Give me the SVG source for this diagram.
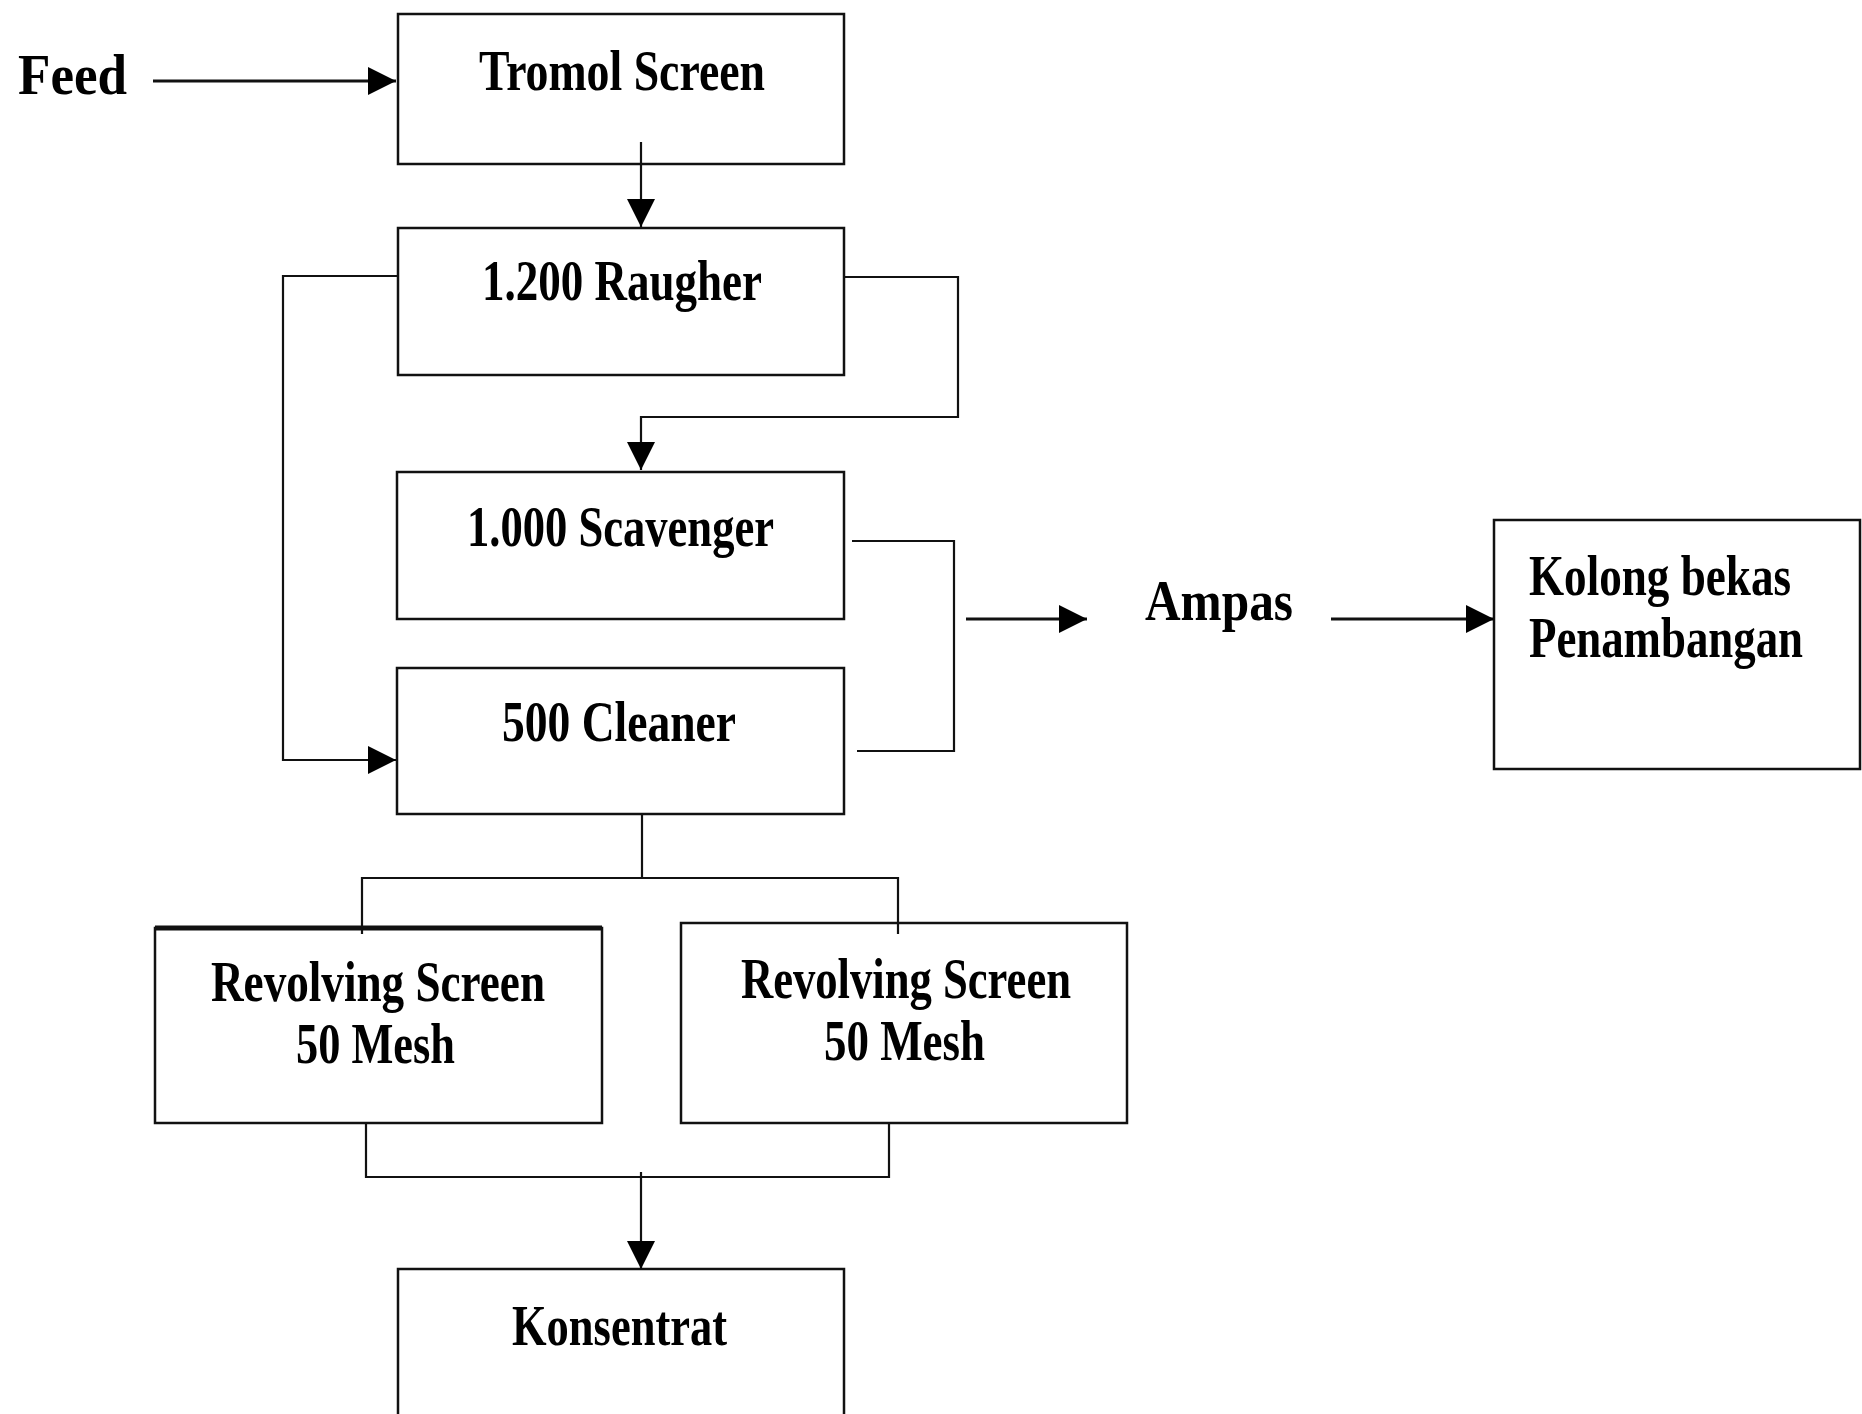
<svg xmlns="http://www.w3.org/2000/svg" width="1862" height="1414" viewBox="0 0 1862 1414">
<style>
.box{fill:#fff;stroke:#111;stroke-width:2.5}
.ln{fill:none;stroke:#111;stroke-width:2.2}
.t{font-family:"Liberation Serif","Times New Roman",serif;font-weight:bold;font-size:56px;fill:#000}
</style>
<defs>
<marker id="ah" viewBox="0 0 28 28" refX="28" refY="14" markerWidth="28" markerHeight="28" markerUnits="userSpaceOnUse" orient="auto">
<path d="M0,0 L28,14 L0,28 z" fill="#000"/>
</marker>
</defs>
<rect width="1862" height="1414" fill="#fff"/>

<g id="feed">
<text class="t" x="18" y="94" font-size="63" textLength="109" lengthAdjust="spacingAndGlyphs">Feed</text>
</g>
<g id="tromol">
<rect class="box" x="398" y="14" width="446" height="150"/>
<text class="t" x="479" y="90" textLength="286" lengthAdjust="spacingAndGlyphs">Tromol Screen</text>
</g>
<g id="raugher">
<rect class="box" x="398" y="228" width="446" height="147"/>
<text class="t" x="482" y="300" textLength="280" lengthAdjust="spacingAndGlyphs">1.200 Raugher</text>
</g>
<g id="scavenger">
<rect class="box" x="397" y="472" width="447" height="147"/>
<text class="t" x="467" y="546" textLength="307" lengthAdjust="spacingAndGlyphs">1.000 Scavenger</text>
</g>
<g id="cleaner">
<rect class="box" x="397" y="668" width="447" height="146"/>
<text class="t" x="502" y="741" textLength="234" lengthAdjust="spacingAndGlyphs">500 Cleaner</text>
</g>
<g id="ampas">
<text class="t" x="1145" y="620" textLength="148" lengthAdjust="spacingAndGlyphs">Ampas</text>
</g>
<g id="kolong">
<rect class="box" x="1494" y="520" width="366" height="249"/>
<text class="t" x="1529" y="595" textLength="262" lengthAdjust="spacingAndGlyphs">Kolong bekas</text>
<text class="t" x="1529" y="657" textLength="274" lengthAdjust="spacingAndGlyphs">Penambangan</text>
</g>
<g id="revolving1">
<rect class="box" x="155" y="928" width="447" height="195"/>
<line x1="155" y1="928" x2="602" y2="928" stroke="#111" stroke-width="5"/>
<text class="t" x="211" y="1001" textLength="334" lengthAdjust="spacingAndGlyphs">Revolving Screen</text>
<text class="t" x="296" y="1063" textLength="159" lengthAdjust="spacingAndGlyphs">50 Mesh</text>
</g>
<g id="revolving2">
<rect class="box" x="681" y="923" width="446" height="200"/>
<text class="t" x="741" y="998" textLength="330" lengthAdjust="spacingAndGlyphs">Revolving Screen</text>
<text class="t" x="824" y="1060" textLength="161" lengthAdjust="spacingAndGlyphs">50 Mesh</text>
</g>
<g id="konsentrat">
<rect class="box" x="398" y="1269" width="446" height="160"/>
<text class="t" x="512" y="1345" textLength="215" lengthAdjust="spacingAndGlyphs">Konsentrat</text>
</g>

<g id="connectors">
<line class="ln" x1="153" y1="81" x2="396" y2="81" style="stroke-width:3" marker-end="url(#ah)"/>
<line class="ln" x1="641" y1="142" x2="641" y2="227" marker-end="url(#ah)"/>
<polyline class="ln" points="844,277 958,277 958,417 641,417 641,470" marker-end="url(#ah)"/>
<polyline class="ln" points="398,276 283,276 283,760 396,760" marker-end="url(#ah)"/>
<polyline class="ln" points="852,541 954,541 954,751 857,751"/>
<line class="ln" x1="966" y1="619" x2="1087" y2="619" style="stroke-width:3" marker-end="url(#ah)"/>
<line class="ln" x1="1331" y1="619" x2="1494" y2="619" style="stroke-width:3" marker-end="url(#ah)"/>
<line class="ln" x1="642" y1="814" x2="642" y2="878"/>
<polyline class="ln" points="362,934 362,878 898,878 898,934"/>
<polyline class="ln" points="366,1123 366,1177 889,1177 889,1123"/>
<line class="ln" x1="641" y1="1172" x2="641" y2="1269" marker-end="url(#ah)"/>
</g>
</svg>
